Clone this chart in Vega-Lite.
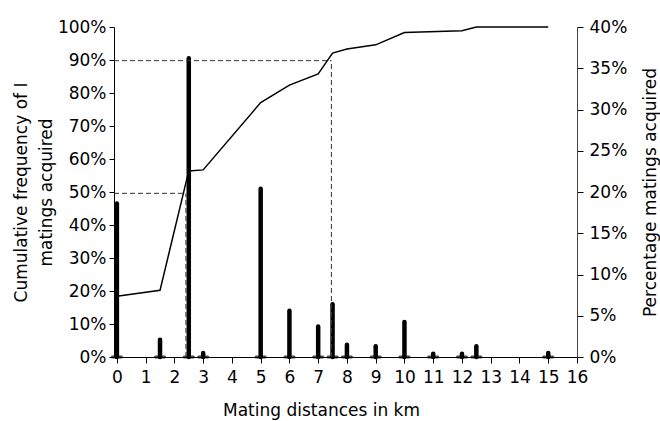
{
  "$schema": "https://vega.github.io/schema/vega-lite/v6.json",
  "width": 463,
  "height": 330,
  "autosize": "none",
  "padding": {"left": 114, "top": 27, "right": 83, "bottom": 64},
  "background": "white",
  "config": {
    "view": {"stroke": null},
    "font": "DejaVu Sans",
    "axis": {
      "labelFont": "DejaVu Sans",
      "labelFontSize": 17,
      "labelColor": "black",
      "labelOverlap": false,
      "labelFlush": false,
      "titleFont": "DejaVu Sans",
      "titleFontSize": 17,
      "titleFontWeight": "normal",
      "titleColor": "black",
      "domainColor": "black",
      "tickColor": "black",
      "grid": false
    },
    "axisX": {
      "values": [0,1,2,3,4,5,6,7,8,9,10,11,12,13,14,15,16],
      "title": "Mating distances in km",
      "tickSize": 6,
      "labelPadding": 6,
      "titleX": 207,
      "titlePadding": 17
    }
  },
  "datasets": {
    "bars": [
      {"km": 0, "pct": 18.6},
      {"km": 1.5, "pct": 2.1},
      {"km": 2.5, "pct": 36.2},
      {"km": 3, "pct": 0.5},
      {"km": 5, "pct": 20.4},
      {"km": 6, "pct": 5.6},
      {"km": 7, "pct": 3.7},
      {"km": 7.5, "pct": 6.4},
      {"km": 8, "pct": 1.5},
      {"km": 9, "pct": 1.3},
      {"km": 10, "pct": 4.25},
      {"km": 11, "pct": 0.4},
      {"km": 12, "pct": 0.4},
      {"km": 12.5, "pct": 1.3},
      {"km": 15, "pct": 0.5}
    ],
    "cum": [
      {"km": 0, "cum": 18.4},
      {"km": 1.5, "cum": 20.2},
      {"km": 2.5, "cum": 56.4},
      {"km": 3, "cum": 56.7},
      {"km": 5, "cum": 77.1},
      {"km": 6, "cum": 82.4},
      {"km": 7, "cum": 85.8},
      {"km": 7.5, "cum": 92.1},
      {"km": 8, "cum": 93.3},
      {"km": 9, "cum": 94.6},
      {"km": 10, "cum": 98.3},
      {"km": 12, "cum": 98.9},
      {"km": 12.5, "cum": 100},
      {"km": 15, "cum": 100}
    ],
    "guides": [
      {"x1": -0.1, "x2": 2.4, "y1": 49.6, "y2": 49.6},
      {"x1": 2.4, "x2": 2.4, "y1": 0, "y2": 49.6},
      {"x1": -0.1, "x2": 7.46, "y1": 89.8, "y2": 89.8},
      {"x1": 7.46, "x2": 7.46, "y1": 0, "y2": 89.8}
    ]
  },
  "layer": [
    {
      "layer": [
        {
          "data": {"name": "bars"},
          "mark": {"type": "tick", "orient": "horizontal", "color": "black", "thickness": 3, "size": 12, "cornerRadius": 1.5},
          "encoding": {
            "x": {"field": "km", "type": "quantitative", "title": "Mating distances in km", "scale": {"domain": [-0.1, 16], "nice": false, "zero": false}},
            "y": {"datum": 0, "type": "quantitative", "scale": {"domain": [0, 40], "nice": false}}
          }
        },
        {
          "data": {"name": "bars"},
          "mark": {"type": "rule", "color": "black", "strokeWidth": 4.5, "strokeCap": "round"},
          "encoding": {
            "x": {"field": "km", "type": "quantitative", "title": "Mating distances in km"},
            "y": {"field": "pct", "type": "quantitative", "scale": {"domain": [0, 40], "nice": false},
              "axis": {"orient": "right", "values": [0,5,10,15,20,25,30,35,40], "labelExpr": "datum.value + '%'", "title": "Percentage matings  acquired", "titleAngle": 270, "titleBaseline": "top", "titlePadding": 16, "tickSize": 6, "domainColor": "#444", "labelPadding": 6}},
            "y2": {"datum": 0}
          }
        }
      ]
    },
    {
      "layer": [
        {
          "data": {"name": "cum"},
          "mark": {"type": "line", "color": "black", "strokeWidth": 1.5},
          "encoding": {
            "x": {"field": "km", "type": "quantitative", "title": "Mating distances in km"},
            "y": {"field": "cum", "type": "quantitative", "scale": {"domain": [0, 100], "nice": false},
              "axis": {"orient": "left", "values": [0,10,20,30,40,50,60,70,80,90,100], "labelExpr": "datum.value + '%'", "title": ["Cumulative frequency of I", "matings acquired"], "titleLineHeight": 25, "tickSize": 5, "labelPadding": 3, "titlePadding": 2}}
          }
        },
        {
          "data": {"name": "guides"},
          "mark": {"type": "rule", "color": "#333", "strokeWidth": 1, "strokeDash": [5, 3]},
          "encoding": {
            "x": {"field": "x1", "type": "quantitative", "title": "Mating distances in km"},
            "x2": {"field": "x2"},
            "y": {"field": "y1", "type": "quantitative", "scale": {"domain": [0, 100], "nice": false},
              "axis": {"orient": "left", "values": [0,10,20,30,40,50,60,70,80,90,100], "labelExpr": "datum.value + '%'", "title": ["Cumulative frequency of I", "matings acquired"], "titleLineHeight": 25, "tickSize": 5, "labelPadding": 3, "titlePadding": 2}},
            "y2": {"field": "y2"}
          }
        }
      ]
    }
  ],
  "resolve": {"scale": {"y": "independent"}}
}
